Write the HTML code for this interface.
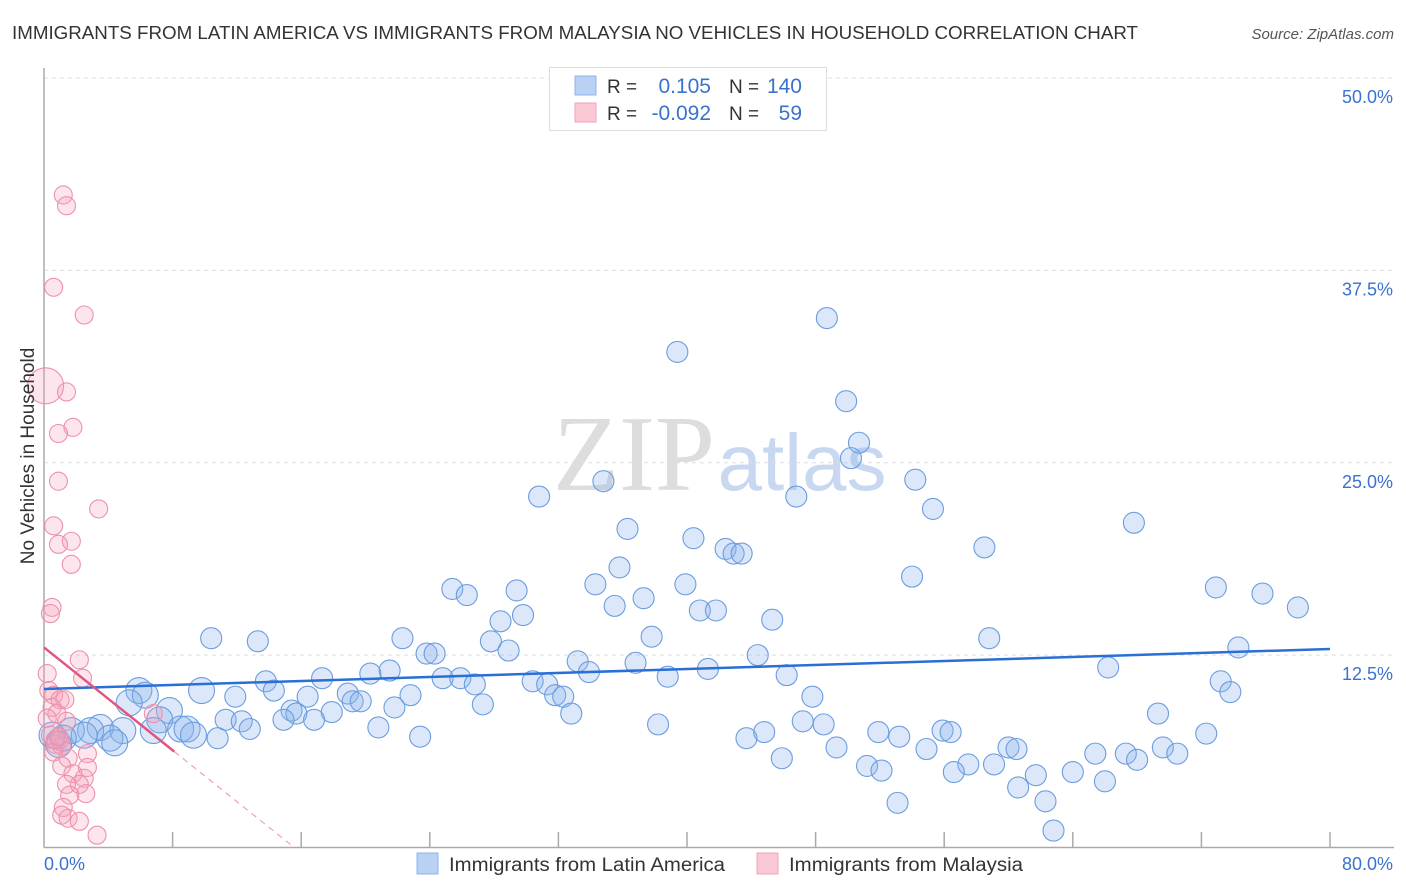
<!DOCTYPE html>
<html><head><meta charset="utf-8"><style>
body{margin:0;background:#fff;font-family:"Liberation Sans",sans-serif}
#wrap{position:relative;width:1406px;height:892px;overflow:hidden}
</style></head><body>
<div id="wrap">
<svg id="svg" width="1406" height="892" xmlns="http://www.w3.org/2000/svg">
<text x="12" y="39" font-size="18" fill="#333" textLength="1126" lengthAdjust="spacingAndGlyphs">IMMIGRANTS FROM LATIN AMERICA VS IMMIGRANTS FROM MALAYSIA NO VEHICLES IN HOUSEHOLD CORRELATION CHART</text>
<text x="1394" y="39" font-size="15" fill="#555" font-style="italic" text-anchor="end">Source: ZipAtlas.com</text>
<g>
<text x="634" y="490" font-size="108" fill="#ddd" font-family="Liberation Serif,serif" text-anchor="middle">ZIP</text>
<text x="802" y="490" font-size="80" fill="#c8d8f0" text-anchor="middle">atlas</text>
</g>
<g id="grid"></g>
<g id="axes"></g>
<g id="pts"></g>
<g id="trend"></g>
<text transform="translate(34,456) rotate(-90)" font-size="19" fill="#333" text-anchor="middle">No Vehicles in Household</text>
<g>
<rect x="549.5" y="67.5" width="277" height="63" fill="#fff" stroke="#ddd"/>
<rect x="575" y="76" width="21" height="19" fill="#b9d2f3" stroke="#8fb3e8"/>
<rect x="575" y="103" width="21" height="19" fill="#fbc8d6" stroke="#f2a2b9"/>
<text x="607" y="93" font-size="19" fill="#333">R =</text>
<text x="711" y="93" font-size="21" fill="#3a72d0" text-anchor="end">0.105</text>
<text x="729" y="93" font-size="19" fill="#333">N =</text>
<text x="802" y="93" font-size="21" fill="#3a72d0" text-anchor="end">140</text>
<text x="607" y="120" font-size="19" fill="#333">R =</text>
<text x="711" y="120" font-size="21" fill="#3a72d0" text-anchor="end">-0.092</text>
<text x="729" y="120" font-size="19" fill="#333">N =</text>
<text x="802" y="120" font-size="21" fill="#3a72d0" text-anchor="end">59</text>
</g>
<g>
<rect x="417" y="853" width="21" height="21" fill="#b9d2f3" stroke="#8fb3e8"/>
<text x="449" y="871" font-size="19" fill="#333" textLength="276" lengthAdjust="spacingAndGlyphs">Immigrants from Latin America</text>
<rect x="757" y="853" width="21" height="21" fill="#fbc8d6" stroke="#f2a2b9"/>
<text x="789" y="871" font-size="19" fill="#333" textLength="234" lengthAdjust="spacingAndGlyphs">Immigrants from Malaysia</text>
</g>
</svg>
</div>
<script>
const yTicks=[12.5,25,37.5,50];
const yTickLabels=["12.5%","25.0%","37.5%","50.0%"];
const xTickLabels=["0.0%","80.0%"];
const blueX=[48.7,39.4,49.9,50.7,50.2,34.8,30.8,46.8,54.2,55.3,67.8,36.3,40.4,42.4,42.9,43.4,58.5,35.8,54.0,34.3,39.9,25.4,29.4,72.9,75.8,26.3,37.3,78.0,35.5,40.8,41.8,29.8,28.4,45.3,10.4,13.3,22.3,27.8,37.8,58.8,74.3,23.8,24.3,28.9,44.4,33.2,66.2,41.3,33.9,36.8,21.5,20.3,24.8,25.9,38.8,46.2,13.8,17.3,26.8,30.4,31.3,9.8,14.3,73.2,73.8,5.9,6.3,5.3,11.9,16.4,18.9,22.8,31.8,32.3,47.8,19.2,19.7,27.3,7.8,15.4,15.7,17.9,21.8,32.8,69.3,11.3,16.8,12.3,14.9,47.2,48.5,38.2,7.2,6.8,8.5,8.9,12.8,20.8,4.9,3.5,2.9,1.7,4.1,2.5,1.2,0.5,10.8,9.3,44.8,43.7,51.9,55.9,56.4,53.2,72.3,23.4,4.4,0.9,49.3,54.9,60.0,60.5,65.4,67.3,69.6,70.5,45.9,68.0,51.2,57.5,59.1,52.1,56.6,64.0,61.7,66.0,60.6,53.1,62.3,62.8];
const blueY=[34.4,32.2,29.0,26.3,25.3,23.8,22.8,22.8,23.9,22.0,21.1,20.7,20.1,19.4,19.1,19.1,19.5,18.2,17.6,17.1,17.1,16.8,16.7,16.9,16.5,16.4,16.2,15.6,15.7,15.4,15.4,15.1,14.7,14.8,13.6,13.4,13.6,13.4,13.7,13.6,13.0,12.6,12.6,12.8,12.5,12.1,11.7,11.6,11.4,12.0,11.5,11.3,11.0,11.0,11.1,11.2,10.8,11.0,10.6,10.8,10.6,10.2,10.2,10.8,10.1,10.2,9.9,9.4,9.8,9.8,10.0,9.9,9.9,9.8,9.8,9.5,9.5,9.3,8.9,8.9,8.7,8.8,9.1,8.7,8.7,8.3,8.3,8.2,8.3,8.2,8.0,8.0,8.3,7.6,7.7,7.7,7.7,7.8,7.6,7.8,7.6,7.6,7.1,7.3,7.1,7.3,7.1,7.3,7.5,7.1,7.5,7.6,7.5,7.2,7.4,7.2,6.8,6.7,6.5,6.4,6.5,6.4,6.1,6.1,6.5,6.1,5.8,5.7,5.3,5.4,5.4,5.0,4.9,4.9,4.7,4.3,3.9,2.9,3.0,1.1];
const pinkX=[1.2,1.4,0.6,2.5,0.1,1.4,1.8,0.9,0.9,3.4,0.6,1.7,0.9,1.7,0.5,0.4,2.2,0.2,2.4,0.3,0.6,1.0,1.3,0.5,0.8,6.8,0.2,1.4,0.4,1.0,0.7,1.1,0.6,1.5,2.7,1.1,2.7,1.8,2.5,2.2,1.4,2.6,1.6,1.2,1.1,1.5,2.2,3.3,0.7,0.9];
const pinkY=[42.4,41.7,36.4,34.6,30.0,29.6,27.3,26.9,23.8,22.0,20.9,19.9,19.7,18.4,15.6,15.2,12.2,11.3,11.0,10.2,9.9,9.6,9.6,9.1,8.7,8.7,8.4,8.2,7.3,7.0,6.7,6.6,6.2,5.8,6.1,5.3,5.2,4.8,4.5,4.1,4.1,3.5,3.4,2.6,2.1,1.9,1.7,0.8,7.0,7.2];
const blueTrend=[10.3,12.9];
const pinkTrend=[13.0,-0.835];
const X0=44,X1=1330,Y0=847.5,Y1=78;
const xs=v=>X0+(X1-X0)*v/80;
const ys=v=>Y0-(Y0-Y1)*v/50;
const NS="http://www.w3.org/2000/svg";
function mk(tag,attrs,parent){const e=document.createElementNS(NS,tag);for(const k in attrs)e.setAttribute(k,attrs[k]);document.getElementById(parent).appendChild(e);return e;}
yTicks.forEach((t,i)=>{
 const g=mk('line',{x1:X0,x2:1394,y1:ys(t),y2:ys(t),stroke:'#ddd','stroke-dasharray':'4,4'},'grid');
 
 
 const l=mk('text',{x:1393,y:ys(t)+25,'font-size':18,fill:'#3a72d0','text-anchor':'end'},'grid');
 l.textContent=yTickLabels[i];
 
 
});
const ax=mk('line',{x1:X0,x2:X0,y1:68,y2:Y0,stroke:'#aaa','stroke-width':1.5},'axes');


const bx=mk('line',{x1:X0,x2:1394,y1:Y0,y2:Y0,stroke:'#aaa','stroke-width':1.5},'axes');


for(let i=1;i<=10;i++){
 const t=mk('line',{x1:xs(i*8),x2:xs(i*8),y1:832,y2:Y0,stroke:'#aaa','stroke-width':1.5},'axes');
 
 
}
[[0,44,'start'],[80,1393,'end']].forEach((d,i)=>{
 const l=mk('text',{x:d[1],y:870,'font-size':18,fill:'#3a72d0','text-anchor':d[2]},'axes');
 l.textContent=xTickLabels[i];
 
 
});
blueX.forEach((x,i)=>{
 const c=mk('circle',{cx:xs(x),cy:ys(blueY[i]),r:x<10?13:10.5,fill:'rgba(140,180,235,0.3)',stroke:'#6a9de0','stroke-width':1.1},'pts');
 
 
});
pinkX.forEach((x,i)=>{
 const c=mk('circle',{cx:xs(x),cy:ys(pinkY[i]),r:i==4?18:9,fill:'rgba(245,160,185,0.28)',stroke:'#ee90ac','stroke-width':1.1},'pts');
 
 
});
const bt=mk('line',{x1:xs(0),y1:ys(blueTrend[0]),x2:xs(80),y2:ys(blueTrend[1]),stroke:'#2a6fd6','stroke-width':2.5},'trend');


const pEnd=8.1,pZero=-pinkTrend[0]/pinkTrend[1];
const pt=mk('line',{x1:xs(0),y1:ys(pinkTrend[0]),x2:xs(pEnd),y2:ys(pinkTrend[0]+pinkTrend[1]*pEnd),stroke:'#e0567f','stroke-width':2.5},'trend');


const pd=mk('line',{x1:xs(pEnd),y1:ys(pinkTrend[0]+pinkTrend[1]*pEnd),x2:xs(pZero),y2:ys(0),stroke:'#f0a0b8','stroke-width':1.2,'stroke-dasharray':'6,5'},'trend');


</script>
</body></html>
